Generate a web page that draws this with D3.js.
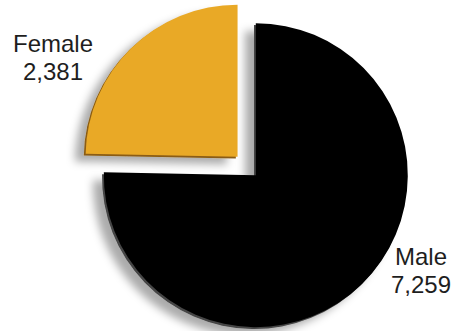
<!DOCTYPE html>
<html>
<head>
<meta charset="utf-8">
<script src="https://cdn.jsdelivr.net/npm/d3@7"></script>
<style>
  html, body { margin: 0; padding: 0; background: #fff; }
  svg { display: block; }
  text { font-family: "Liberation Sans", Arial, sans-serif; fill: #1e1e1e; }
</style>
</head>
<body>
<svg id="chart" width="455" height="331"></svg>
<script>
// Headcount by sex
const categories = ["Male", "Female"];
const counts = [7259, 2381];
const valueLabels = ["7,259", "2,381"];

const W = 455, H = 331;
const cx = 254, cy = 177, radius = 152;
const explode = 26;            // pull-out distance of the Female slice
const colors = { Male: "#020202", Female: "#E9A927" };
const edgeColors = { Male: "#444", Female: "#8a5c12" };

const svg = d3.select("#chart");

// soft grey drop shadow, cast toward lower left
const defs = svg.append("defs");
const f = defs.append("filter").attr("id", "shadow")
  .attr("x", "-20%").attr("y", "-20%").attr("width", "140%").attr("height", "140%");
f.append("feGaussianBlur").attr("in", "SourceAlpha").attr("stdDeviation", 4).attr("result", "b");
f.append("feOffset").attr("in", "b").attr("dx", -9).attr("dy", 6).attr("result", "o");
f.append("feFlood").attr("flood-color", "#000").attr("flood-opacity", 0.33).attr("result", "c");
f.append("feComposite").attr("in", "c").attr("in2", "o").attr("operator", "in").attr("result", "s");
const m = f.append("feMerge");
m.append("feMergeNode").attr("in", "s");
m.append("feMergeNode").attr("in", "SourceGraphic");

// slight softening of the slice edges
defs.append("filter").attr("id", "soft")
  .append("feGaussianBlur").attr("stdDeviation", 0.6);

const data = categories.map((c, i) => ({ name: c, value: counts[i], label: valueLabels[i] }));
const pie = d3.pie().value(d => d.value).sort(null);
const arcs = pie(data);
const arc = d3.arc().innerRadius(0).outerRadius(radius);

const g = svg.append("g").attr("transform", `translate(${cx},${cy})`);

const slice = g.selectAll("g.slice").data(arcs).join("g")
  .attr("class", "slice")
  .attr("transform", d => {
    if (d.data.name !== "Female") return null;
    const a = (d.startAngle + d.endAngle) / 2;
    return `translate(${Math.sin(a) * explode},${-Math.cos(a) * explode})`;
  });

// darker base gives a bevelled edge on the lower-left sides
slice.append("path")
  .attr("d", arc)
  .attr("fill", d => edgeColors[d.data.name])
  .attr("filter", "url(#shadow)");
slice.append("path")
  .attr("d", arc)
  .attr("transform", "translate(1.8,-1.8)")
  .attr("fill", d => colors[d.data.name])
  .attr("filter", "url(#soft)");

// category labels with values
const labelPos = { Female: [53, 52], Male: [421, 265] };
arcs.forEach(d => {
  const [x, y] = labelPos[d.data.name];
  const t = svg.append("text").attr("text-anchor", "middle").attr("font-size", 24);
  t.append("tspan").attr("x", x).attr("y", y).text(d.data.name);
  t.append("tspan").attr("x", x).attr("y", y + 28).text(d.data.label);
});
</script>
</body>
</html>
